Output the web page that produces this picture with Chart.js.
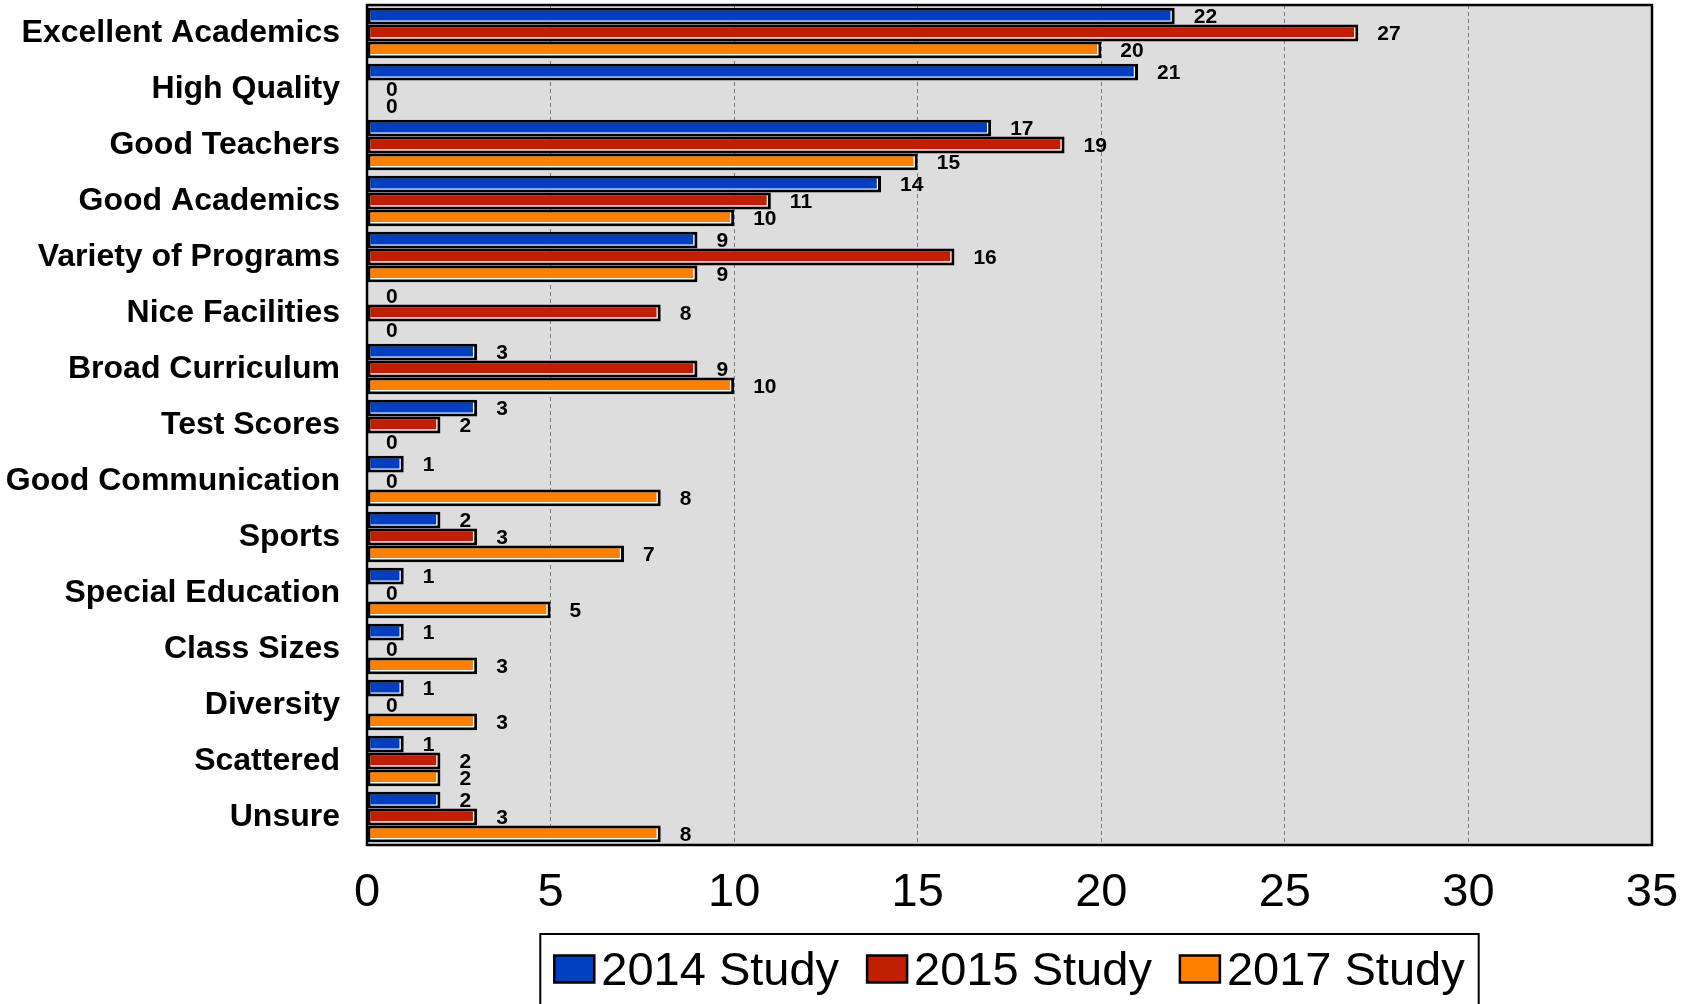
<!DOCTYPE html>
<html>
<head>
<meta charset="utf-8">
<script src="https://cdn.jsdelivr.net/npm/chart.js@4.4.1/dist/chart.umd.min.js"></script>
<style>
  html, body { margin: 0; padding: 0; background: #fff; }
  #wrap { width: 1684px; height: 1004px; position: relative; }
</style>
</head>
<body>
<div id="wrap"><canvas id="bar-chart"></canvas></div>
<script>
const categories = [
  "Excellent Academics", "High Quality", "Good Teachers", "Good Academics",
  "Variety of Programs", "Nice Facilities", "Broad Curriculum", "Test Scores",
  "Good Communication", "Sports", "Special Education", "Class Sizes",
  "Diversity", "Scattered", "Unsure"
];
const study2014 = [22, 21, 17, 14, 9, 0, 3, 3, 1, 2, 1, 1, 1, 1, 2];
const study2015 = [27, 0, 19, 11, 16, 8, 9, 2, 0, 3, 0, 0, 0, 2, 3];
const study2017 = [20, 0, 15, 10, 9, 0, 10, 0, 8, 7, 5, 3, 3, 2, 8];
const seriesNames = ["2014 Study", "2015 Study", "2017 Study"];
const seriesColors = ["#0040C0", "#C02000", "#FF8000"];

const sans = "'Liberation Sans', Arial, sans-serif";

// gray plot background + black frame
const plotBox = {
  id: "plotBox",
  beforeDraw(chart) {
    const { ctx, chartArea: a } = chart;
    ctx.save();
    ctx.fillStyle = "#DDDDDD";
    ctx.fillRect(a.left, a.top, a.right - a.left, a.bottom - a.top);
    ctx.restore();
  },
  afterDraw(chart) {
    const { ctx, chartArea: a } = chart;
    ctx.save();
    ctx.strokeStyle = "#000";
    ctx.lineWidth = 2.5;
    ctx.strokeRect(a.left, a.top, a.right - a.left, a.bottom - a.top);
    ctx.restore();
  }
};

// white bevel line inside the right and bottom edge of each bar
const barBevel = {
  id: "barBevel",
  afterDatasetsDraw(chart) {
    const ctx = chart.ctx;
    ctx.save();
    ctx.strokeStyle = "#fff";
    ctx.lineWidth = 1.2;
    chart.data.datasets.forEach((ds, i) => {
      chart.getDatasetMeta(i).data.forEach((bar, j) => {
        if (!ds.data[j]) return;
        const top = bar.y - bar.height / 2 + 3;
        const bot = bar.y + bar.height / 2 - 3.6;
        const right = bar.x - 3.6;
        ctx.beginPath();
        ctx.moveTo(bar.base + 3, bot);
        ctx.lineTo(right, bot);
        ctx.lineTo(right, top);
        ctx.stroke();
      });
    });
    ctx.restore();
  }
};

// value labels next to the bar ends
const valueLabels = {
  id: "valueLabels",
  afterDatasetsDraw(chart) {
    const ctx = chart.ctx;
    ctx.save();
    ctx.font = "bold 21px " + sans;
    ctx.fillStyle = "#000";
    ctx.textAlign = "left";
    ctx.textBaseline = "middle";
    chart.data.datasets.forEach((ds, i) => {
      chart.getDatasetMeta(i).data.forEach((bar, j) => {
        ctx.fillText(String(ds.data[j]), bar.x + 19, bar.y + 1);
      });
    });
    ctx.restore();
  }
};

// boxed legend under the chart
const boxLegend = {
  id: "boxLegend",
  afterDraw(chart) {
    const { ctx, chartArea: a } = chart;
    const boxW = 40, boxH = 27, gap = 7, spacing = 28, pad = 14;
    ctx.save();
    ctx.font = "47px " + sans;
    const widths = seriesNames.map(n => ctx.measureText(n).width);
    let total = pad * 2;
    widths.forEach((w, i) => { total += boxW + gap + w + (i ? spacing : 0); });
    const cx = (a.left + a.right) / 2;
    const left = cx - total / 2;
    const top = chart.height - 70;
    ctx.strokeStyle = "#000";
    ctx.lineWidth = 2;
    ctx.strokeRect(left, top, total, 80);
    const midY = top + 35;
    let x = left + pad;
    seriesNames.forEach((n, i) => {
      ctx.fillStyle = seriesColors[i];
      ctx.fillRect(x, midY - boxH / 2, boxW, boxH);
      ctx.strokeStyle = "#000";
      ctx.lineWidth = 2.5;
      ctx.strokeRect(x, midY - boxH / 2, boxW, boxH);
      ctx.fillStyle = "#000";
      ctx.textAlign = "left";
      ctx.textBaseline = "middle";
      ctx.fillText(n, x + boxW + gap, midY + 3);
      x += boxW + gap + widths[i] + spacing;
    });
    ctx.restore();
  }
};

const data = {
  labels: categories,
  datasets: [study2014, study2015, study2017].map((vals, i) => ({
    label: seriesNames[i],
    data: vals,
    backgroundColor: seriesColors[i],
    borderColor: "#000",
    borderWidth: 3,
    borderSkipped: false,
    categoryPercentage: 0.9,
    barPercentage: 1.0
  }))
};

const config = {
  type: "bar",
  data: data,
  options: {
    indexAxis: "y",
    responsive: true,
    maintainAspectRatio: false,
    animation: false,
    layout: { padding: { top: 5, right: 32, left: 0, bottom: 72 } },
    plugins: {
      legend: { display: false },
      tooltip: { enabled: false }
    },
    scales: {
      x: {
        min: 0,
        max: 35,
        ticks: {
          stepSize: 5,
          color: "#000",
          padding: 20,
          font: { family: sans, size: 47 }
        },
        grid: {
          drawTicks: false,
          color: (c) => (c.tick && (c.tick.value === 0 || c.tick.value === 35)) ? "rgba(0,0,0,0)" : "#7a7a7a",
          lineWidth: 1
        },
        border: { display: false, dash: [4, 3] },
        afterFit(scale) { scale.height = 87; scale.paddingLeft = 0; scale.paddingRight = 0; }
      },
      y: {
        ticks: {
          color: "#000",
          padding: 27,
          font: { family: sans, size: 32, weight: "bold" }
        },
        grid: { display: false, drawTicks: false },
        border: { display: false },
        afterFit(scale) { scale.width = 367; scale.paddingTop = 0; scale.paddingBottom = 0; }
      }
    }
  },
  plugins: [plotBox, barBevel, valueLabels, boxLegend]
};

let ctx = document.getElementById("bar-chart");
const stackedBar = new Chart(ctx, config);
</script>
</body>
</html>
